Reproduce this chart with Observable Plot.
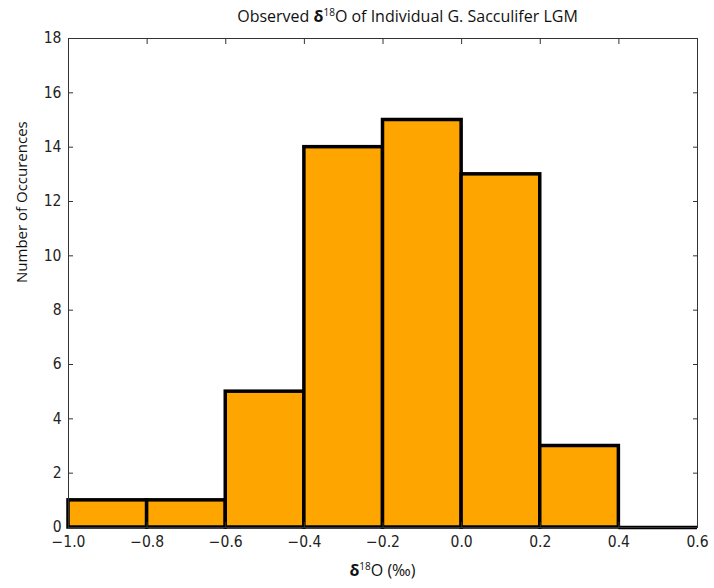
<!DOCTYPE html>
<html><head><meta charset="utf-8">
<script src="https://cdn.jsdelivr.net/npm/d3@7"></script>
<script src="https://cdn.jsdelivr.net/npm/@observablehq/plot@0.6"></script>
<style>
body{margin:0;background:#fff;font-family:"DejaVu Sans Condensed","DejaVu Sans",sans-serif;}
#wrap{position:relative;width:714px;height:588px;}
#title{position:absolute;left:93px;width:629px;top:5px;text-align:center;font-family:"Open Sans","Liberation Sans Narrow",sans-serif;font-size:16px;color:#111;}
#xlab{position:absolute;left:68px;width:629px;top:559px;text-align:center;font-family:"Open Sans",sans-serif;font-size:16px;color:#111;}
#chart{position:absolute;left:0;top:0;}
sup{font-size:10px;}
</style></head>
<body><div id="wrap">
<div id="chart"></div>
<div id="title">Observed <b>δ</b><sup>18</sup>O of Individual G. Sacculifer LGM</div>
<div id="xlab"><b>δ</b><sup>18</sup>O (‰)</div>
</div>
<script>
const binStart = [-1.0, -0.8, -0.6, -0.4, -0.2, 0.0, 0.2, 0.4];
const binEnd   = [-0.8, -0.6, -0.4, -0.2, 0.0, 0.2, 0.4, 0.6];
const counts   = [1, 1, 5, 14, 15, 13, 3, 0];
const xTicks = [-1.0, -0.8, -0.6, -0.4, -0.2, 0.0, 0.2, 0.4, 0.6];
const yTicks = [0, 2, 4, 6, 8, 10, 12, 14, 16, 18];
const data = counts.map((c, i) => ({x1: binStart[i], x2: binEnd[i], y: c}));
const fmtX = d => (d < 0 ? "\u2212" : "") + Math.abs(d).toFixed(1);
const chart = Plot.plot({
  width: 714, height: 588,
  marginLeft: 68, marginRight: 17, marginTop: 38, marginBottom: 61,
  style: {fontFamily: '"DejaVu Sans Condensed","DejaVu Sans",sans-serif', fontSize: "15.5px", color: "#222"},
  x: {domain: [-1.0, 0.6]},
  y: {domain: [0, 18]},
  marks: [
    Plot.rectY(data, {x1: "x1", x2: "x2", y: "y", fill: "#FFA500", stroke: "black", strokeWidth: 3.5}),
    Plot.ruleY(data.filter(d => d.y === 0), {x1: "x1", x2: "x2", y: "y", stroke: "black", strokeWidth: 3.5}),
    Plot.frame({stroke: "#333", strokeWidth: 1}),
    Plot.axisX(xTicks, {anchor: "bottom", tickSize: -5, tickPadding: 13, tickFormat: fmtX, label: null, stroke: "#333"}),
    Plot.axisX(xTicks, {anchor: "top", tickSize: -5, text: null, label: null, stroke: "#333"}),
    Plot.axisY(yTicks, {anchor: "left", tickSize: -5, tickPadding: 12, label: null, stroke: "#333"}),
    Plot.axisY(yTicks, {anchor: "right", tickSize: -5, text: null, label: null, stroke: "#333"}),
    Plot.text(["Number of Occurences"], {frameAnchor: "left", dx: -46, rotate: -90, fontSize: 15, fontFamily: '"Open Sans",sans-serif', fill: "#111"})
  ]
});
document.getElementById("chart").appendChild(chart);
</script>
</body></html>
